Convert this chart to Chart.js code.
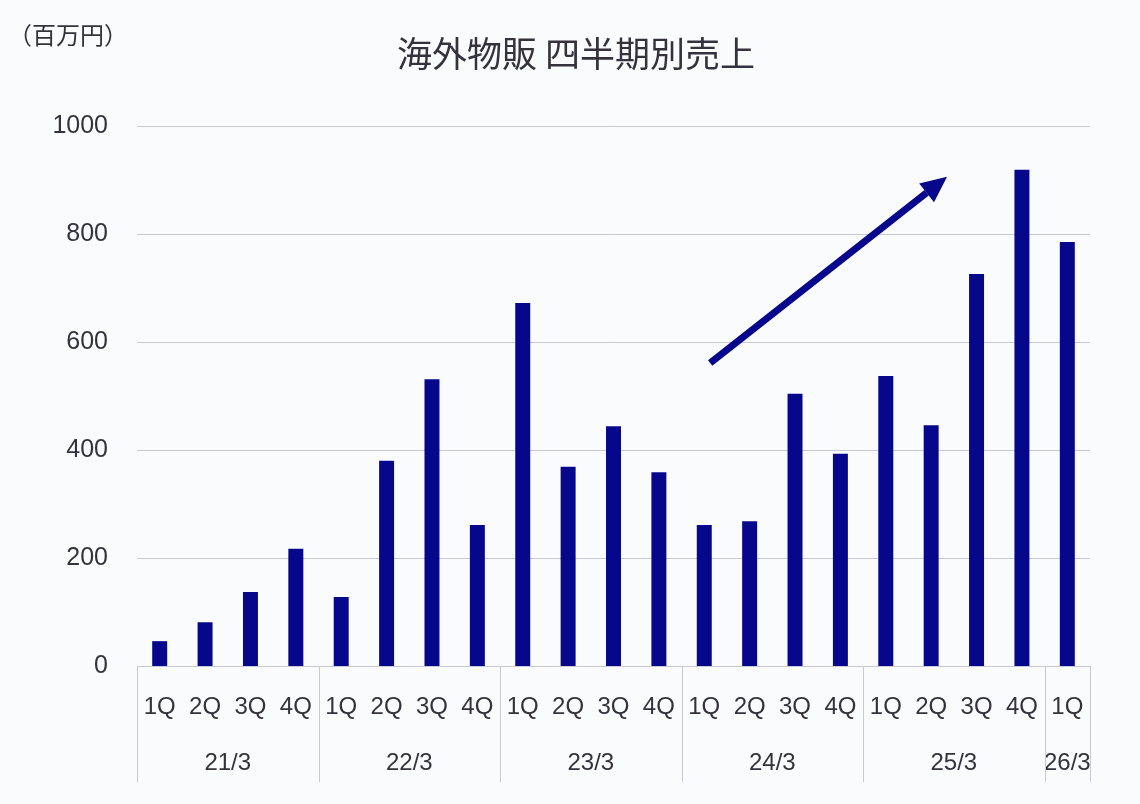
<!DOCTYPE html>
<html>
<head>
<meta charset="utf-8">
<script src="https://cdn.jsdelivr.net/npm/chart.js@4"></script>
<style>
  html, body { margin: 0; padding: 0; background: #fafbfd; }
  #wrap { width: 1140px; height: 804px; }
</style>
</head>
<body>
<div id="wrap"><canvas id="salesChart" width="1140" height="804"></canvas></div>
<script>
const quarters = ['1Q','2Q','3Q','4Q','1Q','2Q','3Q','4Q','1Q','2Q','3Q','4Q','1Q','2Q','3Q','4Q','1Q','2Q','3Q','4Q','1Q'];
const fiscalYears = ['21/3', '22/3', '23/3', '24/3', '25/3', '26/3'];
const quartersPerYear = [4, 4, 4, 4, 4, 1];
const sales = [46, 81, 137, 217, 128, 380, 531, 261, 672, 369, 444, 359, 261, 268, 504, 393, 537, 446, 726, 919, 785];
const yTicks = [0, 200, 400, 600, 800, 1000];
// trend arrow, in (category index, value)
const arrowFrom = [12.13, 561];
const arrowTo = [17.35, 906];

const FONT = "'Liberation Sans', 'Noto Sans CJK JP', sans-serif";
const TEXT = '#35323d';
const BAR = '#07078c';
const GRID = '#c9c9d6';

// horizontal grid lines, drawn under the bars across the plot area only
const gridLines = {
    id: 'gridLines',
    beforeDatasetsDraw(chart) {
        const ctx = chart.ctx;
        const area = chart.chartArea;
        const y = chart.scales.y;
        ctx.save();
        ctx.strokeStyle = GRID;
        ctx.lineWidth = 1;
        yTicks.forEach(v => {
            const py = Math.round(y.getPixelForValue(v)) + 0.5;
            ctx.beginPath();
            ctx.moveTo(area.left, py);
            ctx.lineTo(area.right, py);
            ctx.stroke();
        });
        ctx.restore();
    }
};

const overlay = {
    id: 'overlay',
    afterDraw(chart) {
        const ctx = chart.ctx;
        const x = chart.scales.x;
        const y = chart.scales.y;
        const top = chart.chartArea.bottom;
        ctx.save();

        // title + unit
        ctx.fillStyle = TEXT;
        ctx.textBaseline = 'middle';
        ctx.textAlign = 'center';
        ctx.font = "35px 'Noto Sans CJK JP', sans-serif";
        ctx.fillText('海外物販 四半期別売上', 576, 54);
        ctx.textAlign = 'left';
        ctx.font = "24px 'Noto Sans CJK JP', sans-serif";
        ctx.fillText('（百万円）', 8, 35);

        // year groups under the quarter labels
        const half = (x.getPixelForValue(1) - x.getPixelForValue(0)) / 2;
        ctx.strokeStyle = GRID;
        ctx.lineWidth = 1;
        ctx.font = '24px ' + FONT;
        ctx.textAlign = 'center';
        let start = 0;
        const edges = [x.getPixelForValue(0) - half];
        quartersPerYear.forEach((n, i) => {
            const left = x.getPixelForValue(start) - half;
            const right = x.getPixelForValue(start + n - 1) + half;
            edges.push(right);
            ctx.fillText(fiscalYears[i], (left + right) / 2, top + 97);
            start += n;
        });
        edges.forEach(px => {
            ctx.beginPath();
            ctx.moveTo(Math.round(px) + 0.5, top);
            ctx.lineTo(Math.round(px) + 0.5, top + 116);
            ctx.stroke();
        });

        // arrow
        const x1 = x.getPixelForValue(arrowFrom[0]), y1 = y.getPixelForValue(arrowFrom[1]);
        const x2 = x.getPixelForValue(arrowTo[0]), y2 = y.getPixelForValue(arrowTo[1]);
        const ang = Math.atan2(y2 - y1, x2 - x1);
        const headLen = 26, headW = 12;
        const bx = x2 - headLen * Math.cos(ang), by = y2 - headLen * Math.sin(ang);
        ctx.strokeStyle = BAR;
        ctx.fillStyle = BAR;
        ctx.lineWidth = 7;
        ctx.beginPath();
        ctx.moveTo(x1, y1);
        ctx.lineTo(bx, by);
        ctx.stroke();
        ctx.beginPath();
        ctx.moveTo(x2, y2);
        ctx.lineTo(bx + headW * Math.sin(ang), by - headW * Math.cos(ang));
        ctx.lineTo(bx - headW * Math.sin(ang), by + headW * Math.cos(ang));
        ctx.closePath();
        ctx.fill();
        ctx.restore();
    }
};

new Chart(document.getElementById('salesChart'), {
    type: 'bar',
    data: {
        labels: quarters,
        datasets: [{
            data: sales,
            backgroundColor: BAR,
            categoryPercentage: 1,
            barPercentage: 0.33
        }]
    },
    options: {
        responsive: false,
        devicePixelRatio: 1,
        animation: false,
        layout: { padding: { left: 0, right: 50, top: 126, bottom: 0 } },
        plugins: { legend: { display: false }, tooltip: { enabled: false } },
        scales: {
            x: {
                grid: { display: false },
                border: { display: false },
                ticks: { color: TEXT, font: { family: FONT, size: 24 }, padding: 19, maxRotation: 0, autoSkip: false },
                afterFit(s) { s.height = 138; }
            },
            y: {
                min: 0,
                max: 1000,
                afterBuildTicks(s) { s.ticks = yTicks.map(v => ({ value: v })); },
                grid: { display: false },
                border: { display: false },
                ticks: { color: TEXT, font: { family: FONT, size: 25 }, padding: 21, callback: v => String(v) },
                afterFit(s) { s.width = 137; }
            }
        }
    },
    plugins: [gridLines, overlay]
});
</script>
</body>
</html>
